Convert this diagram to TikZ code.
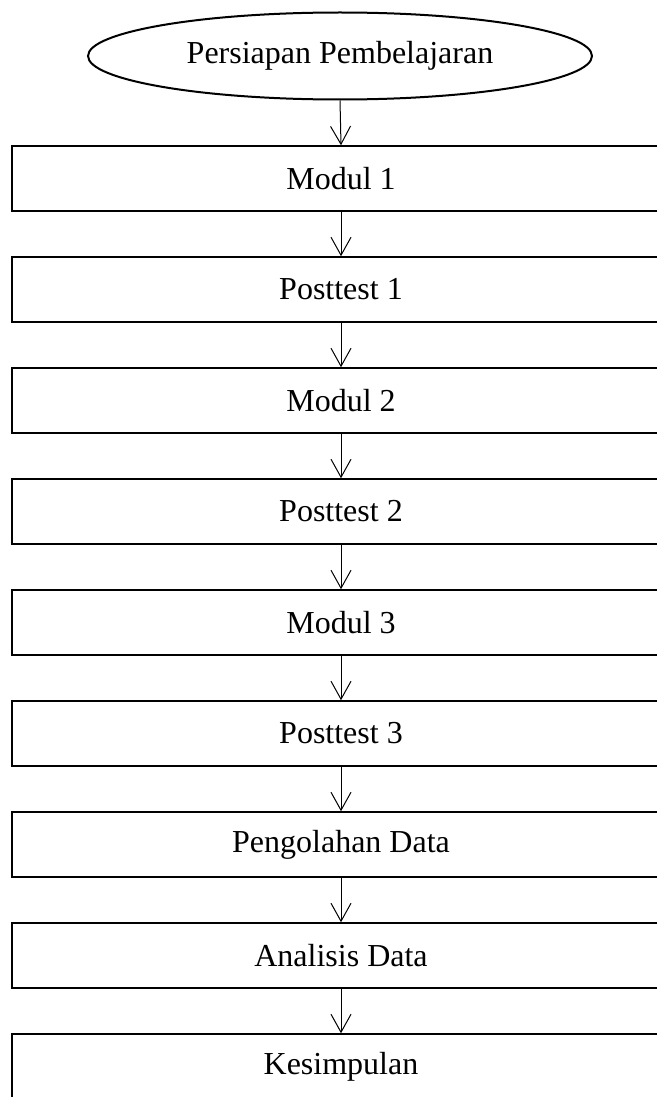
\documentclass[tikz,border=0pt]{standalone}
\usepackage{fontspec}
\setmainfont{Liberation Serif}
\usepackage{tikz}
\usetikzlibrary{arrows.meta,shapes.geometric}

\tikzset{
  stepbox/.style={draw,line width=0.75pt,minimum width=329pt,minimum height=32.5pt,inner sep=0pt,font=\fontsize{16}{19}\selectfont},
  startnode/.style={draw,ellipse,line width=1pt,minimum width=252pt,minimum height=43.5pt,inner sep=0pt,font=\fontsize{16}{19}\selectfont},
  flow/.style={line width=0.5pt,-{Straight Barb[length=9pt,width=10pt]}}
}

\begin{document}
\begin{tikzpicture}[x=0.5pt,y=-0.5pt]
    \useasboundingbox (0,0) rectangle (657,1097);
    \clip (0,0) rectangle (657,1097);
    \node[startnode] (mulai) at (340,56) {Persiapan Pembelajaran};
    \node[stepbox] (modul1) at (341,178.5) {Modul 1};
    \node[stepbox] (post1) at (341,289.5) {Posttest 1};
    \node[stepbox] (modul2) at (341,400.5) {Modul 2};
    \node[stepbox] (post2) at (341,511.5) {Posttest 2};
    \node[stepbox] (modul3) at (341,622.5) {Modul 3};
    \node[stepbox] (post3) at (341,733.5) {Posttest 3};
    \node[stepbox] (olah) at (341,844.5) {Pengolahan Data};
    \node[stepbox] (analisis) at (341,955.5) {Analisis Data};
    \node[stepbox] (simpul) at (341,1066.5) {Kesimpulan};
    \draw[flow] (mulai.south) -- (modul1.north);
    \draw[flow] (modul1) -- (post1);
    \draw[flow] (post1) -- (modul2);
    \draw[flow] (modul2) -- (post2);
    \draw[flow] (post2) -- (modul3);
    \draw[flow] (modul3) -- (post3);
    \draw[flow] (post3) -- (olah);
    \draw[flow] (olah) -- (analisis);
    \draw[flow] (analisis) -- (simpul);
  \end{tikzpicture}
\end{document}
